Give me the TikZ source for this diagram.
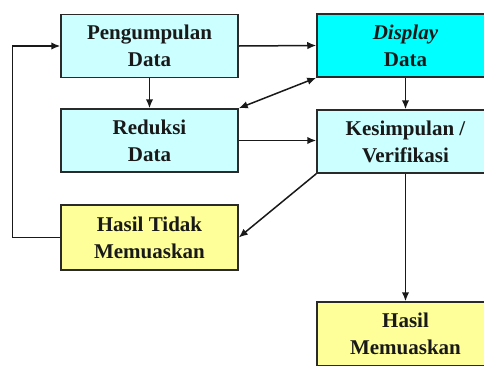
\documentclass[tikz,border=0pt]{standalone}
\usepackage{fontspec}
\setmainfont{Liberation Serif}
\usepackage{tikz}
\usetikzlibrary{arrows.meta}
\definecolor{lightcyan}{HTML}{CCFFFF}
\definecolor{fullcyan}{HTML}{00FFFF}
\definecolor{paleyellow}{HTML}{FFFF99}
\definecolor{boxline}{HTML}{2A2A2A}
\tikzset{>={Latex[length=9pt,width=7.5pt]}}
\tikzset{
    kotak/.style={draw=boxline,line width=1.5pt,minimum width=177pt,minimum height=63pt,
        align=center,inner sep=0pt,text=black!90,font=\fontsize{21}{27}\selectfont\bfseries},
    biru/.style={kotak,fill=lightcyan},
    kuning/.style={kotak,fill=paleyellow},
    panah/.style={->,line width=1.5pt,black!90}
}

\begin{document}
\begin{tikzpicture}[x=1pt,y=-1pt]
            \clip (0,0) rectangle (484,365);
            \fill[white] (0,0) rectangle (484,365);
            \node[biru] (kumpul) at (149.5,46) {Pengumpulan\\Data};
            \node[kotak,fill=fullcyan] (display) at (405.5,45.5) {\textit{Display}\\Data};
            \node[biru] (reduksi) at (149.5,140.5) {Reduksi\\Data};
            \node[biru] (simpul) at (405.5,141.5) {Kesimpulan /\\Verifikasi};
            \node[kuning,minimum height=65pt] (tidak) at (149.5,237.5) {Hasil Tidak\\Memuaskan};
            \node[kuning,minimum height=64pt] (puas) at (405.5,334) {Hasil\\Memuaskan};
            % alur
            \draw[panah] (tidak.west) -- ++(-48,0) |- (kumpul.west);
            \draw[panah] (kumpul.east) -- (display.west);
            \draw[panah] (kumpul.south) -- (reduksi.north);
            \draw[panah] (display.south) -- (simpul.north);
            \draw[panah,<->] (reduksi.north east) -- (display.south west);
            \draw[panah] (reduksi.east) -- (reduksi.east -| simpul.west);
            \draw[panah] (simpul.south west) -- (tidak.east);
            \draw[panah] (simpul.south) -- (puas.north);
        \end{tikzpicture}
\end{document}
